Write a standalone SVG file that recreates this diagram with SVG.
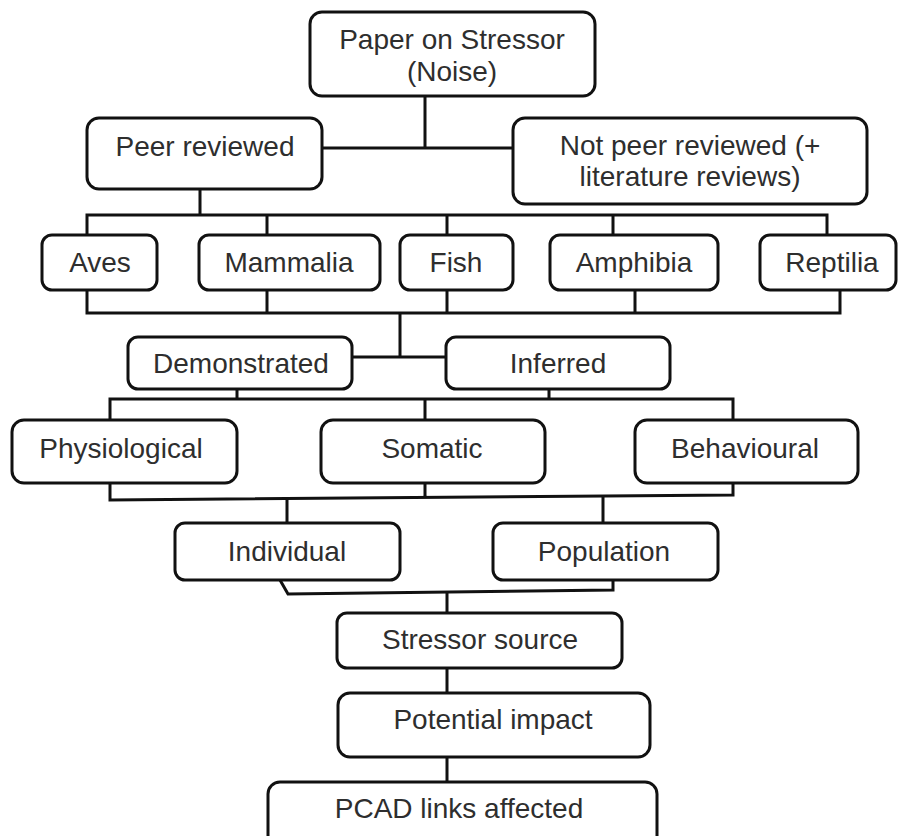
<svg xmlns="http://www.w3.org/2000/svg" width="899" height="836" viewBox="0 0 899 836">
<style>
.box{fill:#fff;stroke:#111;stroke-width:3}
.ln{fill:none;stroke:#111;stroke-width:3;stroke-linejoin:miter}
text{font-family:"Liberation Sans",Arial,sans-serif;font-size:28px;fill:#2e2e2e;text-anchor:middle}
</style>
<rect width="899" height="836" fill="#fff"/>
<g id="connectors">
<path class="ln" d="M425 96V148M322 148H513"/>
<path class="ln" d="M200 189V215M87 235V215H827V235M267 215V235M447 215V235M613 215V235"/>
<path class="ln" d="M87 290V313H840V290M267 290V313M447 290V313M635 290V313"/>
<path class="ln" d="M400 313V357M352 357H446"/>
<path class="ln" d="M237 389V399M549 389V399M110 420V399H733V420M425 399V420"/>
<path class="ln" d="M110 483V500L733 495V483M425 483V498"/>
<path class="ln" d="M287 499V523M603 496V523"/>
<path class="ln" d="M280 580L288 594L613 590V580"/>
<path class="ln" d="M447 592V613M447 668V693M447 757V782"/>
</g>
<g id="paper"><rect class="box" x="310" y="12" width="285" height="84" rx="12"/><text x="452" y="49">Paper on Stressor</text><text x="452" y="81">(Noise)</text></g>
<g id="peer"><rect class="box" x="87" y="118" width="235" height="71" rx="12"/><text x="205" y="156">Peer reviewed</text></g>
<g id="notpeer"><rect class="box" x="513" y="118" width="354" height="86" rx="12"/><text x="690" y="155">Not peer reviewed  (+</text><text x="690" y="186">literature reviews)</text></g>
<g id="aves"><rect class="box" x="42" y="235" width="115" height="55" rx="10"/><text x="100" y="272">Aves</text></g>
<g id="mammalia"><rect class="box" x="199" y="235" width="181" height="55" rx="10"/><text x="289" y="272">Mammalia</text></g>
<g id="fish"><rect class="box" x="400" y="235" width="113" height="55" rx="10"/><text x="456" y="272">Fish</text></g>
<g id="amphibia"><rect class="box" x="550" y="235" width="168" height="55" rx="10"/><text x="634" y="272">Amphibia</text></g>
<g id="reptilia"><rect class="box" x="760" y="235" width="136" height="55" rx="10"/><text x="832" y="272">Reptilia</text></g>
<g id="demonstrated"><rect class="box" x="128" y="337" width="224" height="52" rx="10"/><text x="241" y="373">Demonstrated</text></g>
<g id="inferred"><rect class="box" x="446" y="337" width="224" height="52" rx="10"/><text x="558" y="373">Inferred</text></g>
<g id="physiological"><rect class="box" x="12" y="420" width="225" height="63" rx="12"/><text x="121" y="458">Physiological</text></g>
<g id="somatic"><rect class="box" x="321" y="420" width="224" height="63" rx="12"/><text x="432" y="458">Somatic</text></g>
<g id="behavioural"><rect class="box" x="635" y="420" width="223" height="63" rx="12"/><text x="745" y="458">Behavioural</text></g>
<g id="individual"><rect class="box" x="175" y="523" width="225" height="57" rx="10"/><text x="287" y="561">Individual</text></g>
<g id="population"><rect class="box" x="493" y="523" width="225" height="57" rx="10"/><text x="604" y="561">Population</text></g>
<g id="stressor"><rect class="box" x="337" y="613" width="285" height="55" rx="10"/><text x="480" y="649">Stressor source</text></g>
<g id="impact"><rect class="box" x="338" y="693" width="312" height="64" rx="12"/><text x="493" y="729">Potential impact</text></g>
<g id="pcad"><rect class="box" x="268" y="782" width="389" height="70" rx="12"/><text x="459" y="818">PCAD links affected</text></g>
</svg>
